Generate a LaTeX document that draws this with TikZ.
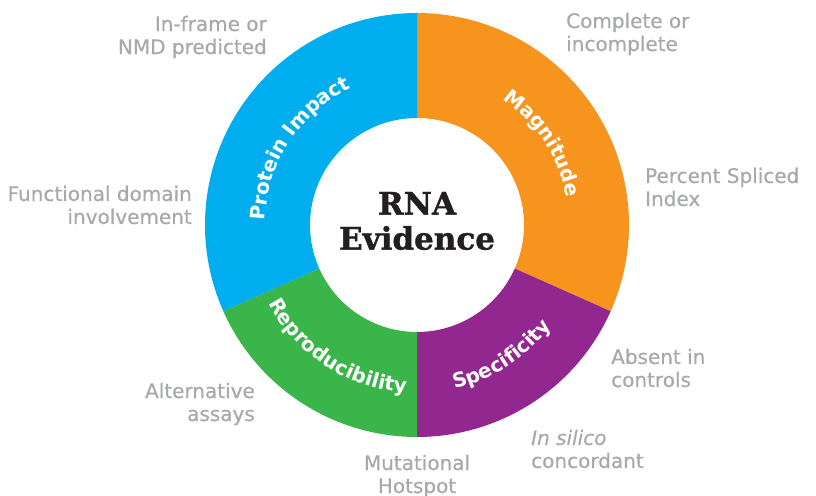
\documentclass[tikz,border=0pt]{standalone}
\usepackage{fontspec}
\newfontfamily\labelfont[FakeBold=0.6]{DejaVu Sans}
\newfontfamily\arcfamily{DejaVu Sans}
\newfontfamily\titlefont[FakeBold=1.2]{DejaVu Serif}
\usetikzlibrary{decorations.text}
\definecolor{impactblue}{HTML}{00AEEF}
\definecolor{magorange}{HTML}{F7941E}
\definecolor{specpurple}{HTML}{92278F}
\definecolor{repgreen}{HTML}{39B54A}
\definecolor{notegray}{HTML}{A7A9AC}
\definecolor{titleblack}{HTML}{231F20}
\newcommand\arcfont{\arcfamily\bfseries\fontsize{20}{20}\selectfont}
\tikzset{
    note/.style={inner sep=0pt, text=notegray, font=\labelfont\fontsize{20}{23}\selectfont},
    arclabel/.style={decorate, decoration={text along path, text align=center,
        text color=white, text={|\arcfont|#1}}}
}

\begin{document}
\begin{tikzpicture}[x=1pt, y=1pt]
    \useasboundingbox (0,0) rectangle (816,495);
    \coordinate (C) at (417,270);

    % the ring
    \begin{scope}[shift={(C)}]
        \fill[magorange] (90:212) arc[start angle=90, end angle=-24, radius=212]
            -- (-24:107) arc[start angle=-24, end angle=90, radius=107] -- cycle;
        \fill[specpurple] (-24:212) arc[start angle=-24, end angle=-90, radius=212]
            -- (-90:107) arc[start angle=-90, end angle=-24, radius=107] -- cycle;
        \fill[repgreen] (-90:212) arc[start angle=-90, end angle=-156, radius=212]
            -- (-156:107) arc[start angle=-156, end angle=-90, radius=107] -- cycle;
        \fill[impactblue] (204:212) arc[start angle=204, end angle=90, radius=212]
            -- (90:107) arc[start angle=90, end angle=204, radius=107] -- cycle;

        \path[arclabel=Protein Impact] (204:152) arc[start angle=204, end angle=90, radius=152];
        \path[arclabel=Magnitude] (90:152) arc[start angle=90, end angle=-24, radius=152];
        \path[arclabel=Reproducibility] (204:168) arc[start angle=204, end angle=270, radius=168];
        \path[arclabel=Specificity] (270:168) arc[start angle=270, end angle=336, radius=168];
    \end{scope}

    \node[inner sep=0pt, align=center, text=titleblack,
        font=\titlefont\bfseries\fontsize{31}{35}\selectfont] (TITLE) at (417,274) {RNA\\Evidence};

    \node[note, align=right, anchor=east] (INFRAME) at (267,458) {In-frame or\\NMD predicted};
    \node[note, align=right, anchor=east] (FUNCDOM) at (192,290) {Functional domain\\involvement};
    \node[note, align=right, anchor=east] (ALTERN) at (255,91) {Alternative\\assays};
    \node[note, align=center] (HOTSPOT) at (417,19) {Mutational\\Hotspot};
    \node[note, align=left, anchor=west] (INSILICO) at (531,46) {\itshape In silico\\concordant};
    \node[note, align=left, anchor=west] (ABSENT) at (611,127) {Absent in\\controls};
    \node[note, align=left, anchor=west] (PSI) at (645,308) {Percent Spliced\\Index};
    \node[note, align=left, anchor=west] (COMPLETE) at (566,461) {Complete or\\incomplete};
\end{tikzpicture}
\end{document}
